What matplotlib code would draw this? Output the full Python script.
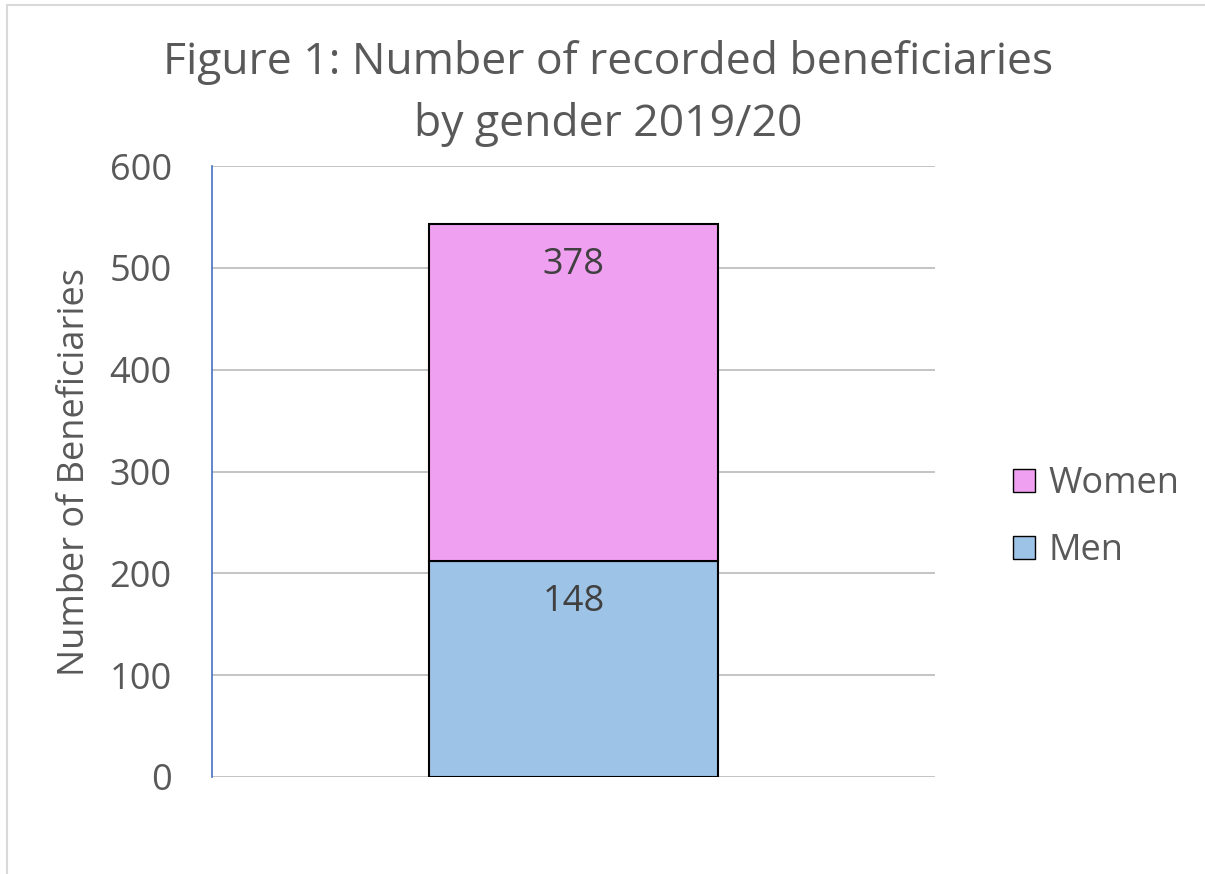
import numpy as np
import matplotlib
matplotlib.use("Agg")
import matplotlib.pyplot as plt
from matplotlib.patches import Patch

plt.rcParams['font.family'] = ['Open Sans', 'DejaVu Sans']

# datos
categorias = ['2019/20']
series = ['Men', 'Women']
alturas_barras = [212, 331]      # altura de cada tramo tal y como se ve en el grafico
etiquetas = ['148', '378']       # etiquetas de datos escritas en la barra
colores = ['#9dc3e6', '#f0a0f0']
yticks = [0, 100, 200, 300, 400, 500, 600]

fig = plt.figure(figsize=(12.05, 8.74), dpi=100)
ax = fig.add_axes([0.176, 0.111, 0.600, 0.699])

x = np.arange(len(categorias))
base = np.zeros(len(categorias))
for h, lab, c in zip(alturas_barras, etiquetas, colores):
    ax.bar(x, [h], bottom=base, width=0.8, color=c, edgecolor='black', linewidth=1.5, zorder=3)
    ax.text(x[0], base[0] + h - 40, lab, ha='center', va='center', fontsize=26, color='#404040', zorder=4)
    base = base + h

ax.set_xlim(-1, 1)
ax.set_ylim(0, 600)
ax.set_yticks(yticks)
ax.set_xticks([])
ax.tick_params(axis='y', length=0, labelsize=26, labelcolor='#595959', pad=29)
ax.grid(axis='y', color='#bfbfbf', linewidth=1.3, zorder=0)
for s in ['top', 'right', 'bottom']:
    ax.spines[s].set_visible(False)
ax.spines['left'].set_color('#4472c4')
ax.spines['left'].set_linewidth(1.2)

ax.set_ylabel('Number of Beneficiaries', fontsize=26, color='#595959', labelpad=12)

fig.text(0.505, 0.893, 'Figure 1: Number of recorded beneficiaries\nby gender 2019/20',
         ha='center', va='center', fontsize=32, color='#595959', linespacing=1.5)

handles = [Patch(facecolor=colores[1], edgecolor='black', label='Women'),
           Patch(facecolor=colores[0], edgecolor='black', label='Men')]
fig.legend(handles=handles, loc='center left', bbox_to_anchor=(0.8407, 0.4075), frameon=False,
           fontsize=26, labelcolor='#595959', handlelength=0.62, handleheight=0.62,
           handletextpad=0.36, labelspacing=0.85, borderpad=0, borderaxespad=0)

# borde del grafico
fig.add_artist(plt.Line2D([0.006, 0.006], [0, 0.994], color='#d9d9d9', linewidth=1.5))
fig.add_artist(plt.Line2D([0.006, 1], [0.994, 0.994], color='#d9d9d9', linewidth=1.5))

fig.savefig('out.png', dpi=100)
